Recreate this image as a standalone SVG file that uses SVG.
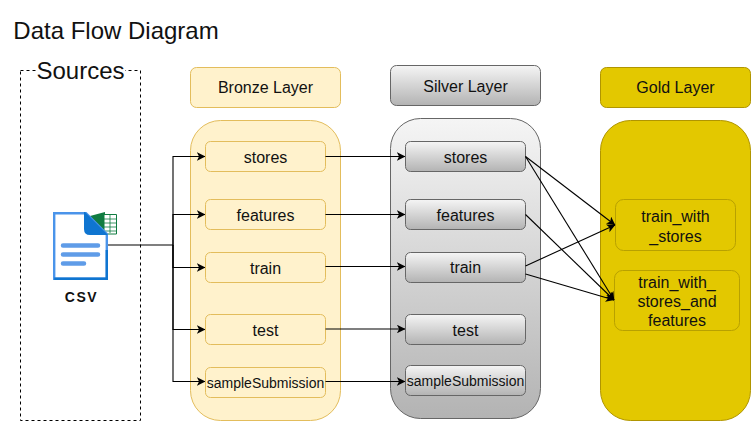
<svg xmlns="http://www.w3.org/2000/svg" width="751" height="421" viewBox="0 0 751 421">
<style>
text{font-family:"Liberation Sans",Arial,sans-serif;font-size:16px;fill:#111;text-anchor:middle}
.b{fill:#fff2cc;stroke:#e3bd5c;stroke-width:1}
.s{fill:url(#sg);stroke:#666;stroke-width:1}
.g{fill:#e3c800;stroke:#b09500;stroke-width:1}
.gi{fill:none;stroke:#b8a100;stroke-width:1}
.c{fill:none;stroke:#000;stroke-width:1.1;marker-end:url(#a)}
.big{font-size:24px}
.sm{font-size:14px}
</style>
<defs>
<linearGradient id="sg" x1="0" y1="0" x2="0" y2="1"><stop offset="0" stop-color="#f5f5f5"/><stop offset="1" stop-color="#b3b3b3"/></linearGradient>
<marker id="a" viewBox="0 0 10 10" refX="9.500" refY="5" markerWidth="8.500" markerHeight="8.500" markerUnits="userSpaceOnUse" orient="auto"><path d="M0 0L10 5L0 10L2.500 5Z" fill="#000"/></marker>
</defs>
<rect width="751" height="421" fill="#fff"/>
<text x="116" y="39" class="big">Data Flow Diagram</text>

<g id="sources">
<rect x="20.500" y="70.500" width="120" height="350" fill="none" stroke="#000" stroke-dasharray="3 3"/>
<rect x="36" y="60" width="89" height="24" fill="#fff"/>
<text x="80.500" y="79" class="big">Sources</text>
</g>

<g id="csv">
<path d="M90 216L105 212V235H96Z" fill="#107c41"/>
<path d="M104 214.500H116.500V234H104Z" fill="#fff" stroke="#107c41" stroke-width="1"/>
<path d="M104 219H116M104 223H116M104 227H116M104 231H116M110 215V233" stroke="#107c41" stroke-width="0.800" fill="none"/>
<path d="M54.200 213.200H86L106.800 234V278.800H54.200Z" fill="#fff" stroke="#4a94ea" stroke-width="2.400"/>
<path d="M54.200 278.800H106.800V250" fill="none" stroke="#0f75d0" stroke-width="2.400"/>
<path d="M85 212L108 235H90Q84 235 84 229V212Z" fill="#0f75d0"/>
<path d="M63 245.500H98M63 254.500H98M63 263.500H84" stroke="#5f9ce8" stroke-width="4.500" stroke-linecap="round"/>
<text x="81.500" y="302" style="font-size:14px;font-weight:bold;letter-spacing:1.500px">CSV</text>
</g>

<g id="bronze-header"><rect class="b" x="190.500" y="67.500" width="150" height="40" rx="6"/><text x="265.500" y="93">Bronze Layer</text></g>
<g id="silver-header"><rect class="s" x="390.500" y="65.500" width="150" height="40" rx="6"/><text x="465.500" y="92">Silver Layer</text></g>
<g id="gold-header"><rect class="g" x="600.500" y="67.500" width="150" height="40" rx="6"/><text x="675.500" y="93">Gold Layer</text></g>

<g id="bronze-panel"><rect class="b" x="190.500" y="120.500" width="150" height="300" rx="30"/></g>
<g id="silver-panel"><rect class="s" x="390.500" y="118.500" width="150" height="300" rx="30"/></g>
<g id="gold-panel"><rect class="g" x="600.500" y="120.500" width="150" height="300" rx="30"/></g>

<g id="b-stores"><rect class="b" x="205.500" y="141.500" width="120" height="30" rx="5"/><text x="265.500" y="163">stores</text></g>
<g id="b-features"><rect class="b" x="205.500" y="199.500" width="120" height="30" rx="5"/><text x="265.500" y="221">features</text></g>
<g id="b-train"><rect class="b" x="205.500" y="252.500" width="120" height="30" rx="5"/><text x="265.500" y="274">train</text></g>
<g id="b-test"><rect class="b" x="205.500" y="314.500" width="120" height="30" rx="5"/><text x="265.500" y="336">test</text></g>
<g id="b-sample"><rect class="b" x="205.500" y="367.500" width="120" height="30" rx="5"/><text x="265.500" y="388" class="sm">sampleSubmission</text></g>

<g id="s-stores"><rect class="s" x="405.500" y="141.500" width="120" height="30" rx="5"/><text x="465.500" y="163">stores</text></g>
<g id="s-features"><rect class="s" x="405.500" y="199.500" width="120" height="30" rx="5"/><text x="465.500" y="221">features</text></g>
<g id="s-train"><rect class="s" x="405.500" y="252.500" width="120" height="30" rx="5"/><text x="465.500" y="273">train</text></g>
<g id="s-test"><rect class="s" x="405.500" y="314.500" width="120" height="30" rx="5"/><text x="465.500" y="336">test</text></g>
<g id="s-sample"><rect class="s" x="405.500" y="365.500" width="120" height="30" rx="5"/><text x="465.500" y="386" class="sm">sampleSubmission</text></g>

<g id="g-stores"><rect class="gi" x="615.500" y="199.500" width="120" height="51" rx="8"/><text x="675.500" y="222">train_with</text><text x="675.500" y="242">_stores</text></g>
<g id="g-both"><rect class="gi" x="614.500" y="270.500" width="125" height="60" rx="8"/><text x="677" y="288">train_with_</text><text x="677" y="307">stores_and</text><text x="677" y="326">features</text></g>

<g id="connectors">
<path class="c" d="M108 245H173V156.500H205"/>
<path class="c" d="M173 245V214.500H205"/>
<path class="c" d="M173 245V267.500H205"/>
<path class="c" d="M173 245V329.500H205"/>
<path class="c" d="M173 245V381.500H205"/>
<path class="c" d="M325.500 156.500H405"/>
<path class="c" d="M325.500 214.500H405"/>
<path class="c" d="M325.500 266.500H405"/>
<path class="c" d="M325.500 329H405"/>
<path class="c" d="M325.500 381.500H405"/>
<path class="c" d="M525.500 156.500L615 225"/>
<path class="c" d="M525.500 156.500L614 300"/>
<path class="c" d="M525.500 214.500L614 300"/>
<path class="c" d="M525.500 266L615 225"/>
<path class="c" d="M525.500 274L614 300"/>
</g>
</svg>
